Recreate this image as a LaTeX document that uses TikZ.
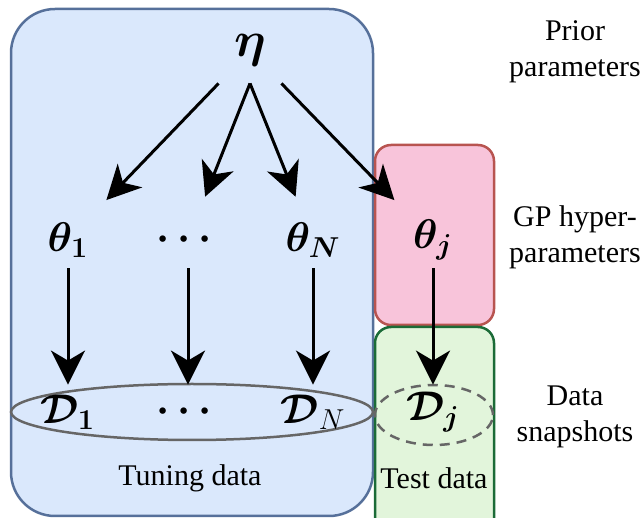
\documentclass[tikz,border=0pt]{standalone}
\usepackage{amsmath}
\usepackage{amssymb}
\usepackage[no-math]{fontspec}
\setmainfont{Liberation Serif}
\usetikzlibrary{arrows.meta}
\definecolor{tunefill}{HTML}{DAE8FC}
\definecolor{tuneline}{HTML}{56709A}
\definecolor{hyperfill}{HTML}{F8C4DA}
\definecolor{hyperline}{HTML}{B85450}
\definecolor{testfill}{HTML}{E2F5DB}
\definecolor{testline}{HTML}{1B6B37}
\definecolor{setline}{HTML}{666666}
\tikzset{
	varstyle/.style={minimum width=50pt,minimum height=28pt,inner sep=0pt,font=\fontsize{22}{26}\selectfont},
	datastyle/.style={minimum width=50pt,minimum height=27pt,inner sep=0pt,font=\fontsize{22}{26}\selectfont},
	labelstyle/.style={align=center,inner sep=0pt,font=\fontsize{15}{18}\selectfont},
	edgestyle/.style={-{Stealth[length=17pt,width=17pt,inset=5pt]},line width=1.5pt},
	parentedge/.style={edgestyle,shorten >=8pt},
	groupstyle/.style={line width=1.25pt}
}
\newcommand{\dotsrow}{{\fontsize{20}{20}\selectfont$\boldsymbol{\cdots}$}}
\begin{document}
\begin{tikzpicture}[x=0.5pt,y=-0.5pt]
	\clip (0,0) rectangle (644,518);
	% groups
	\draw[groupstyle,draw=tuneline,fill=tunefill,rounded corners=22pt] (11,9) rectangle (373,516);
	\draw[groupstyle,draw=hyperline,fill=hyperfill,rounded corners=8pt] (375,145) rectangle (494,325);
	\draw[groupstyle,draw=testline,fill=testfill,rounded corners=8pt] (375,327) rectangle (494,540);
	\draw[groupstyle,draw=setline] (192,412) ellipse [x radius=90.5pt,y radius=14pt];
	\draw[groupstyle,draw=setline,dash pattern=on 5pt off 3.5pt] (434,415) ellipse [x radius=29.5pt,y radius=15pt];
	% variables
	\node[font=\fontsize{30}{30}\selectfont,minimum width=31pt,minimum height=33pt,inner sep=0pt] (eta) at (250,50) {$\boldsymbol{\eta}$};
	\foreach \n/\x/\t/\d in {1/68/{$\boldsymbol{\theta_1}$}/{$\boldsymbol{\mathcal{D}_1}$},
		2/188/{\dotsrow}/{\dotsrow},
		3/313/{$\boldsymbol{\theta_N}$}/{$\boldsymbol{\mathcal{D}}_N$},
		4/433/{$\boldsymbol{\theta_j}$}/{$\boldsymbol{\mathcal{D}_j}$}}
	{
		\node[varstyle] (th\n) at (\x,240) {\t};
		\node[datastyle] (d\n) at (\x,412) {\d};
		\draw[edgestyle] (th\n) -- (d\n);
	}
	\draw[parentedge] (eta.south west) -- (th1);
	\draw[parentedge] (eta.south) -- (th2);
	\draw[parentedge] (eta.south) -- (th3);
	\draw[parentedge] (eta.south east) -- (th4);
	% labels
	\node[labelstyle] (tune) at (190,478) {Tuning data};
	\node[labelstyle] (test) at (434,478) {Test data};
	\node[labelstyle] (prior) at (575,52) {Prior\\parameters};
	\node[labelstyle] (gp) at (575,237) {GP hyper-\\parameters};
	\node[labelstyle] (snap) at (575,417) {Data\\snapshots};
\end{tikzpicture}
\end{document}
